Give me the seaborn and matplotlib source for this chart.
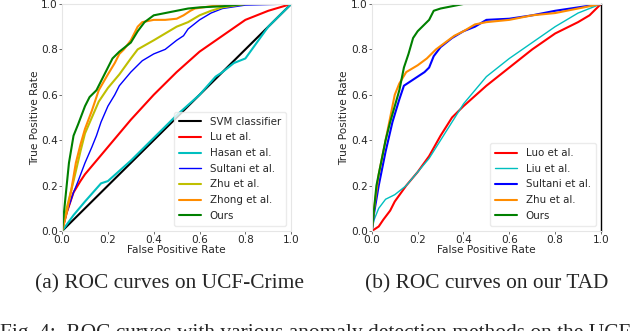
import numpy as np
import pandas as pd
import matplotlib
matplotlib.use("Agg")
import matplotlib.pyplot as plt
import seaborn as sns

# ── (a) UCF-Crime ROC curves ────────────────────────────────────────────────
svm_fpr = [0.0, 1.0]
svm_tpr = [0.0, 1.0]

lu_fpr = [0, 0.02, 0.05, 0.08, 0.1, 0.15, 0.2, 0.3, 0.4, 0.5, 0.6, 0.7, 0.8, 0.9, 1.0]
lu_tpr = [0, 0.08, 0.17, 0.22, 0.25, 0.31, 0.37, 0.49, 0.60, 0.70, 0.79, 0.86, 0.93, 0.97, 1.0]

hasan_fpr = [0, 0.05, 0.1, 0.17, 0.2, 0.3, 0.4, 0.5, 0.6, 0.67, 0.7, 0.75, 0.8, 0.85, 0.9, 1.0]
hasan_tpr = [0, 0.07, 0.13, 0.21, 0.22, 0.31, 0.41, 0.51, 0.60, 0.68, 0.70, 0.74, 0.76, 0.83, 0.90, 1.0]

sultani_fpr = [0, 0.02, 0.05, 0.07, 0.1, 0.13, 0.15, 0.17, 0.2, 0.23, 0.25, 0.3, 0.35,
               0.4, 0.45, 0.5, 0.53, 0.55, 0.6, 0.65, 0.7, 0.8, 1.0]
sultani_tpr = [0, 0.08, 0.17, 0.22, 0.30, 0.37, 0.42, 0.48, 0.55, 0.60, 0.64, 0.70, 0.75,
               0.78, 0.80, 0.84, 0.86, 0.89, 0.93, 0.96, 0.98, 0.995, 1.0]

zhu_fpr = [0, 0.02, 0.05, 0.08, 0.1, 0.13, 0.16, 0.2, 0.25, 0.3, 0.33, 0.4, 0.45, 0.5,
           0.55, 0.6, 0.65, 0.7, 0.8, 1.0]
zhu_tpr = [0, 0.10, 0.22, 0.35, 0.43, 0.50, 0.57, 0.63, 0.69, 0.76, 0.80, 0.84, 0.87, 0.90,
           0.92, 0.95, 0.97, 0.985, 1.0, 1.0]

zhong_fpr = [0, 0.02, 0.04, 0.06, 0.08, 0.1, 0.13, 0.16, 0.2, 0.23, 0.25, 0.27, 0.3, 0.33,
             0.35, 0.4, 0.45, 0.5, 0.53, 0.56, 0.58, 0.65, 0.75, 1.0]
zhong_tpr = [0, 0.08, 0.18, 0.30, 0.38, 0.45, 0.53, 0.62, 0.69, 0.74, 0.78, 0.80, 0.84, 0.90,
             0.92, 0.93, 0.93, 0.935, 0.95, 0.97, 0.98, 0.99, 1.0, 1.0]

ours_a_fpr = [0, 0.01, 0.02, 0.03, 0.05, 0.07, 0.1, 0.12, 0.15, 0.18, 0.2, 0.22, 0.25, 0.3,
              0.33, 0.36, 0.4, 0.45, 0.5, 0.55, 0.6, 0.7, 0.8, 1.0]
ours_a_tpr = [0, 0.10, 0.20, 0.30, 0.42, 0.47, 0.55, 0.59, 0.62, 0.68, 0.72, 0.76, 0.79, 0.83,
              0.88, 0.92, 0.95, 0.96, 0.97, 0.98, 0.985, 0.99, 1.0, 1.0]

# ── (b) TAD ROC curves ──────────────────────────────────────────────────────
luo_fpr = [0, 0.03, 0.05, 0.08, 0.1, 0.15, 0.2, 0.25, 0.3, 0.35, 0.4, 0.5, 0.6, 0.7, 0.8,
           0.9, 0.95, 1.0]
luo_tpr = [0, 0.02, 0.05, 0.09, 0.13, 0.20, 0.26, 0.33, 0.42, 0.50, 0.55, 0.64, 0.72, 0.80,
           0.87, 0.92, 0.95, 1.0]

liu_fpr = [0, 0.01, 0.03, 0.06, 0.1, 0.15, 0.2, 0.25, 0.3, 0.35, 0.4, 0.45, 0.5, 0.6, 0.7,
           0.8, 0.9, 1.0]
liu_tpr = [0, 0.05, 0.10, 0.14, 0.16, 0.20, 0.26, 0.32, 0.40, 0.48, 0.56, 0.62, 0.68, 0.76,
           0.83, 0.90, 0.96, 1.0]

sultani_b_fpr = [0, 0.01, 0.03, 0.06, 0.09, 0.12, 0.14, 0.17, 0.2, 0.23, 0.25, 0.27, 0.3,
                 0.35, 0.4, 0.45, 0.5, 0.6, 0.7, 0.8, 0.9, 1.0]
sultani_b_tpr = [0, 0.08, 0.20, 0.35, 0.48, 0.58, 0.64, 0.66, 0.68, 0.70, 0.72, 0.77, 0.81,
                 0.85, 0.88, 0.90, 0.93, 0.935, 0.95, 0.97, 0.985, 1.0]

zhu_b_fpr = [0, 0.01, 0.03, 0.05, 0.07, 0.09, 0.1, 0.12, 0.15, 0.2, 0.24, 0.28, 0.32, 0.36,
             0.4, 0.45, 0.5, 0.6, 0.7, 0.8, 0.9, 1.0]
zhu_b_tpr = [0, 0.10, 0.25, 0.35, 0.45, 0.55, 0.60, 0.65, 0.70, 0.73, 0.76, 0.80, 0.83, 0.86,
             0.88, 0.91, 0.92, 0.93, 0.95, 0.96, 0.98, 1.0]

ours_b_fpr = [0, 0.01, 0.02, 0.04, 0.06, 0.08, 0.1, 0.12, 0.14, 0.16, 0.18, 0.2, 0.22, 0.25,
              0.27, 0.3, 0.35, 0.4, 1.0]
ours_b_tpr = [0, 0.10, 0.20, 0.30, 0.40, 0.48, 0.55, 0.62, 0.72, 0.78, 0.85, 0.88, 0.90, 0.93,
              0.97, 0.98, 0.99, 1.0, 1.0]

# matplotlib's classic single-letter colours (seaborn remaps "c"/"y")
CYAN = (0.0, 0.75, 0.75)
OLIVE = (0.75, 0.75, 0.0)

curves_a = [
    ("SVM classifier", svm_fpr, svm_tpr, "black", 1.5),
    ("Lu et al.", lu_fpr, lu_tpr, "red", 1.5),
    ("Hasan et al.", hasan_fpr, hasan_tpr, CYAN, 1.5),
    ("Sultani et al.", sultani_fpr, sultani_tpr, "blue", 1.0),
    ("Zhu et al.", zhu_fpr, zhu_tpr, OLIVE, 1.5),
    ("Zhong et al.", zhong_fpr, zhong_tpr, "darkorange", 1.5),
    ("Ours", ours_a_fpr, ours_a_tpr, "green", 1.5),
]
curves_b = [
    ("Luo et al.", luo_fpr, luo_tpr, "red", 1.5),
    ("Liu et al.", liu_fpr, liu_tpr, CYAN, 1.0),
    ("Sultani et al.", sultani_b_fpr, sultani_b_tpr, "blue", 1.5),
    ("Zhu et al.", zhu_b_fpr, zhu_b_tpr, "darkorange", 1.5),
    ("Ours", ours_b_fpr, ours_b_tpr, "green", 1.5),
]

sns.set_theme(style="white")
plt.rcParams["font.family"] = ["DejaVu Sans"]

fig = plt.figure(figsize=(6.4, 3.31), dpi=100)
ax_a = fig.add_axes([0.097, 0.302, 0.358, 0.686])
ax_b = fig.add_axes([0.581, 0.302, 0.358, 0.686])

for ax, curves in [(ax_a, curves_a), (ax_b, curves_b)]:
    for name, fpr, tpr, color, lw in curves:
        d = pd.DataFrame({"fpr": fpr, "tpr": tpr})
        sns.lineplot(data=d, x="fpr", y="tpr", color=color, linewidth=lw,
                     label=name, sort=False, estimator=None, ax=ax)
    ax.set_xlim(0, 1)
    ax.set_ylim(0, 1)
    ax.set_xticks([0, 0.2, 0.4, 0.6, 0.8, 1.0])
    ax.set_yticks([0, 0.2, 0.4, 0.6, 0.8, 1.0])
    ax.tick_params(labelsize=7.6, length=2, width=0.6, color="#555555", pad=1,
                   left=True, bottom=True)
    ax.set_xlabel("False Positive Rate", fontsize=7.6, labelpad=0)
    ax.set_ylabel("True Positive Rate", fontsize=7.6, labelpad=1)
    for sp in ax.spines.values():
        sp.set_color("#e6e6e6")
        sp.set_linewidth(0.8)
    leg = ax.legend(loc="lower right", fontsize=7.4, frameon=True,
                    handlelength=2.2, labelspacing=0.55, borderpad=0.5)
    leg.get_frame().set_edgecolor("#e6e6e6")

ax_b.spines["right"].set_color("black")
ax_b.spines["right"].set_linewidth(1.0)

fig.text(0.265, 0.142, "(a) ROC curves on UCF-Crime", ha="center", va="center",
         fontsize=15.4, family="Liberation Serif")
fig.text(0.76, 0.142, "(b) ROC curves on our TAD", ha="center", va="center",
         fontsize=15.4, family="Liberation Serif")
fig.text(0.0, 0.02, "Fig. 4:  ROC curves with various anomaly detection methods on the UCF",
         ha="left", va="top", fontsize=15.4, family="Liberation Serif")

fig.savefig("out.png", dpi=100)
